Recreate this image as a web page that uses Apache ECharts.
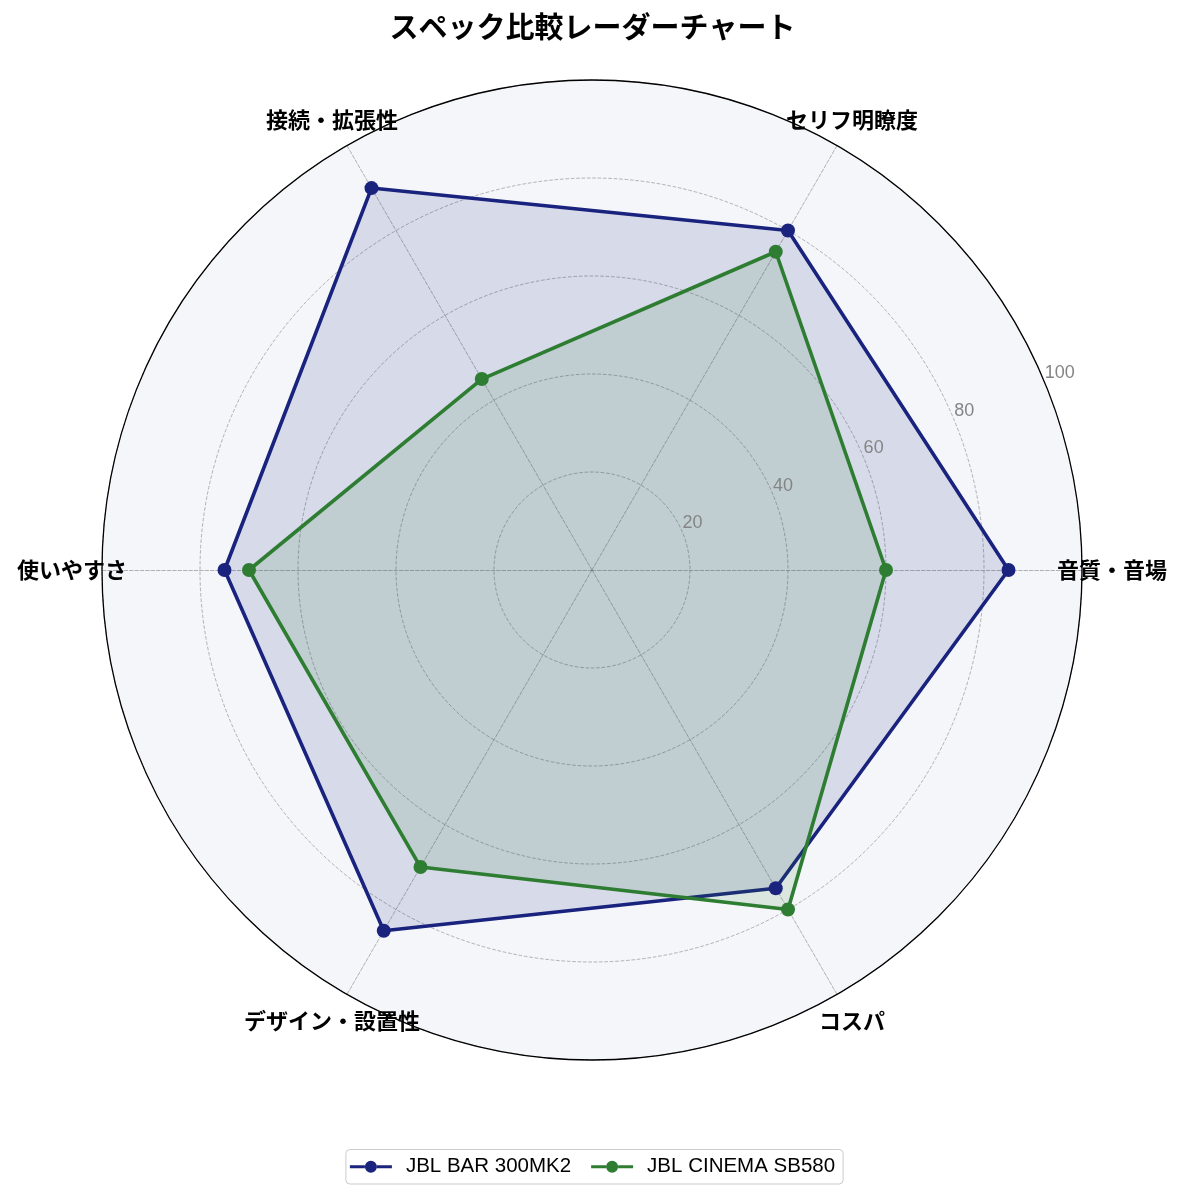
<!DOCTYPE html>
<html>
<head>
<meta charset="utf-8">
<title>スペック比較レーダーチャート</title>
<script src="https://cdn.jsdelivr.net/npm/echarts@6.0.0/dist/echarts.min.js"></script>
<style>
  html, body { margin: 0; padding: 0; background: #fff; }
  .radar .chart { width: 1185px; height: 1198px; }
</style>
</head>
<body>
<div class="radar"><div class="chart"></div></div>
<script>
// 数据
var indicators = ["音質・音場", "セリフ明瞭度", "接続・拡張性", "使いやすさ", "デザイン・設置性", "コスパ"];
var seriesNames = ["JBL BAR 300MK2", "JBL CINEMA SB580"];
var bar300mk2 = [85, 80, 90, 75, 85, 75];
var cinemaSb580 = [60, 75, 45, 70, 70, 80];
var radiusTicks = [20, 40, 60, 80, 100];

// 雷达图
(function() {
  var myChart = echarts.init(document.querySelector(".radar .chart"));
  var cjk = "'Noto Sans CJK JP', sans-serif";
  var latin = "'Liberation Sans', 'Noto Sans CJK JP', sans-serif";
  var colors = ["#1a237e", "#2e7d32"];
  var fills = ["rgba(26, 35, 126, 0.19)", "rgba(46, 125, 50, 0.19)"];
  var values = [bar300mk2, cinemaSb580];

  // 图例图标：线 + 圆点
  var legendIcon = "path://M0,4.5H15V7.5H0Z M27,4.5H42V7.5H27Z M15,6A6,6 0 1 1 27,6A6,6 0 1 1 15,6Z";

  var option = {
    backgroundColor: "#fff",
    title: {
      text: "スペック比較レーダーチャート",
      left: "center",
      top: 7,
      textStyle: {
        color: "#000",
        fontSize: 29,
        fontWeight: "bold",
        fontFamily: cjk
      }
    },
    legend: {
      bottom: 14,
      left: "center",
      itemWidth: 42,
      itemHeight: 12,
      itemGap: 20,
      padding: [7, 8, 7, 4],
      borderColor: "#cccccc",
      borderWidth: 1,
      borderRadius: 4,
      data: seriesNames.map(function(n) {
        return { name: n, icon: legendIcon };
      }),
      textStyle: {
        color: "#000",
        fontSize: 20.5,
        fontFamily: latin,
        padding: [0, 0, 0, 9]
      }
    },
    // 外圈 + 刻度标签
    polar: {
      center: [592, 570],
      radius: 490
    },
    angleAxis: {
      type: "value",
      min: 0,
      max: 360,
      startAngle: 22.5,
      z: 5,
      axisLine: { show: true, lineStyle: { color: "#000", width: 1.3 } },
      axisTick: { show: false },
      axisLabel: { show: false },
      splitLine: { show: false }
    },
    radiusAxis: {
      type: "value",
      min: 0,
      max: 100,
      interval: 20,
      z: 5,
      axisLine: { show: false },
      axisTick: { show: false },
      splitLine: { show: false },
      axisLabel: {
        color: "#858585",
        fontSize: 18,
        fontFamily: latin,
        margin: 0,
        align: "left",
        verticalAlign: "bottom",
        formatter: function(v) {
          return radiusTicks.indexOf(v) >= 0 ? String(v) : "";
        }
      }
    },
    radar: {
      center: [592, 570],
      radius: 490,
      startAngle: 0,
      shape: "circle",
      splitNumber: 5,
      nameGap: 30,
      indicator: indicators.map(function(n) {
        return { name: n, min: 0, max: 100 };
      }),
      axisName: {
        color: "#000",
        fontSize: 22,
        fontWeight: "bold",
        fontFamily: cjk,
        align: "center",
        verticalAlign: "middle"
      },
      axisLine: {
        lineStyle: { color: "rgba(128,128,128,0.65)", type: "dashed", width: 0.9 }
      },
      splitLine: {
        lineStyle: { color: "rgba(128,128,128,0.65)", type: "dashed", width: 0.9 }
      },
      splitArea: {
        areaStyle: { color: ["#f5f6fa"] }
      }
    },
    series: [
      {
        type: "radar",
        symbol: "circle",
        symbolSize: 14,
        data: seriesNames.map(function(n, i) {
          return {
            name: n,
            value: values[i],
            lineStyle: { color: colors[i], width: 3.6 },
            itemStyle: { color: colors[i] },
            areaStyle: { color: fills[i] }
          };
        })
      }
    ]
  };

  myChart.setOption(option);
  window.addEventListener("resize", function() {
    myChart.resize();
  });
})();
</script>
</body>
</html>
